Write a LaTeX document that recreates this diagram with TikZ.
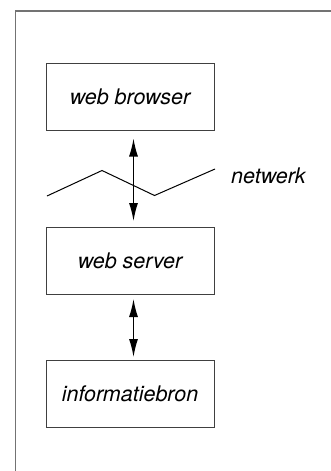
\documentclass[tikz,border=0pt]{standalone}
\usepackage{fontspec}
\setmainfont{TeX Gyre Heros}
\usetikzlibrary{arrows.meta}
\begin{document}
\begin{tikzpicture}[x=1pt,y=-1pt,
  box/.style={draw=black!75,line width=1pt,minimum width=168pt,minimum height=67pt,inner sep=0pt,
    font=\fontsize{21.5}{26}\selectfont\itshape},
  link/.style={line width=1.3pt,{Latex[length=18pt,width=9pt]}-{Latex[length=18pt,width=9pt]}},
  lbl/.style={font=\fontsize{21.5}{26}\selectfont\itshape}]
\useasboundingbox (0,0) rectangle (331,471);
\fill[white] (0,0) rectangle (331,471);
\draw[black!55,line width=1.5pt] (15.5,472) -- (15.5,11) -- (332,11);
\node[box] (browser) at (130,96.5) {web browser};
\node[box] (server) at (130,261) {web server};
\node[box] (info) at (130,394) {informatiebron};
\coordinate (z1) at (47,196);
\coordinate (z2) at (102,170.5);
\coordinate (z3) at (154.5,195.5);
\coordinate (z4) at (215,169);
\draw[line width=1pt] (z1) -- (z2) -- (z3) -- (z4);
\node[lbl,anchor=west,inner sep=0pt] (net) at (231,176) {netwerk};
\draw[link,shorten <=8pt,shorten >=6pt] ([xshift=3.5pt]browser.south) -- ([xshift=3.5pt]server.north);
\draw[link,shorten <=4pt,shorten >=3pt] ([xshift=3.5pt]server.south) -- ([xshift=3.5pt]info.north);
\end{tikzpicture}
\end{document}
